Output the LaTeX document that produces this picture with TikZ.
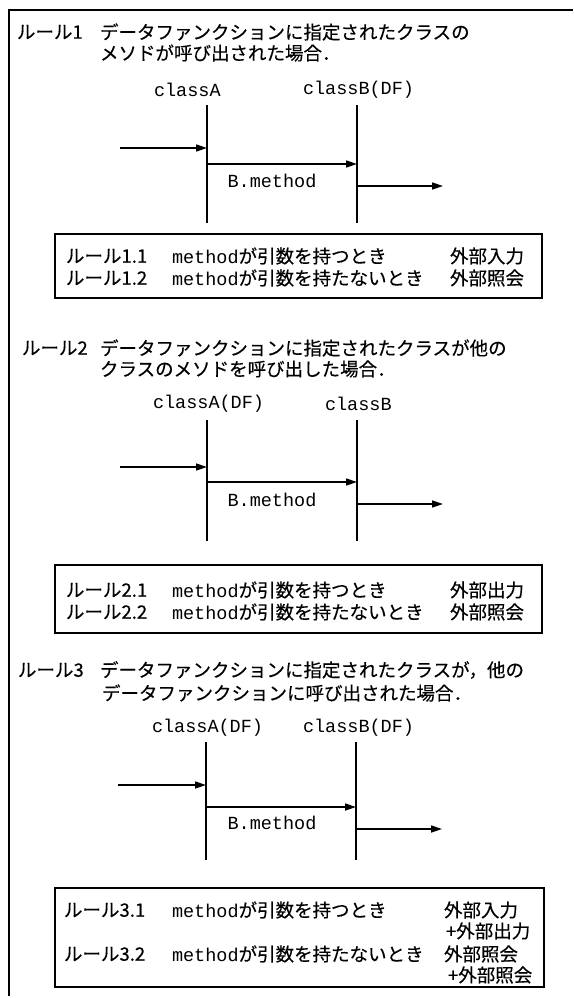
\documentclass[tikz,border=0pt]{standalone}
\usepackage{fontspec}
\setmainfont{Noto Sans CJK JP}[FakeBold=0.35]
\setmonofont{Liberation Mono}
\usetikzlibrary{arrows.meta}
\begin{document}
\begin{tikzpicture}[x=1pt,y=-1pt,
  every node/.style={inner sep=0pt,outer sep=0pt},
  jp/.style={font=\fontsize{18.5}{22}\selectfont,anchor=west},
  cls/.style={font=\fontsize{18.5}{22}\ttfamily,anchor=west},
  life/.style={line width=1.6pt},
  msg/.style={line width=1.6pt,-{Triangle[length=11pt,width=7pt]}},
  rulebox/.style={line width=2pt},
  frame/.style={line width=1.2pt}]
\useasboundingbox (0,0) rectangle (573,998);
% outer frame
\coordinate (fTR) at (573,10);
\coordinate (fTL) at (9,10);
\coordinate (fBL) at (9,996);
\draw[frame] (fTR) -- (fTL) -- (fBL);

% ---------------- Rule 1 ----------------
\node[jp] (r1) at (17,32) {ルール1};
\node[jp] (r1a) at (100,32) {データファンクションに指定されたクラスの};
\node[jp] (r1b) at (100,53) {メソドが呼び出された場合．};
\node[cls] (a1) at (154,90) {classA};
\node[cls] (b1) at (303,90) {classB(DF)};
\coordinate (a1t) at (207,105); \coordinate (a1b) at (207,223);
\coordinate (b1t) at (357,105); \coordinate (b1b) at (357,223);
\draw[life] (a1t) -- (a1b);
\draw[life] (b1t) -- (b1b);
\coordinate (in1s) at (120,148); \coordinate (in1e) at (207,148);
\coordinate (c1s) at (207,164); \coordinate (c1e) at (357,164);
\coordinate (o1s) at (357,186); \coordinate (o1e) at (443,186);
\draw[msg] (in1s) -- (in1e);
\draw[msg] (c1s) -- (c1e);
\draw[msg] (o1s) -- (o1e);
\node[cls,anchor=center] (m1) at (272,181) {B.method};
\coordinate (bx1a) at (55,234); \coordinate (bx1b) at (542,298);
\draw[rulebox] (bx1a) rectangle (bx1b);
\node[jp] (r11) at (66,256) {ルール1.1};
\node[jp] (r11m) at (172,256) {{\ttfamily method}が引数を持つとき};
\node[jp] (r11o) at (450,256) {外部入力};
\node[jp] (r12) at (66,278) {ルール1.2};
\node[jp] (r12m) at (172,278) {{\ttfamily method}が引数を持たないとき};
\node[jp] (r12o) at (450,278) {外部照会};

% ---------------- Rule 2 ----------------
\node[jp] (r2) at (22,348) {ルール2};
\node[jp] (r2a) at (100,348) {データファンクションに指定されたクラスが他の};
\node[jp] (r2b) at (100,369) {クラスのメソドを呼び出した場合．};
\node[cls] (a2) at (153,404) {classA(DF)};
\node[cls] (b2) at (325,404) {classB};
\coordinate (a2t) at (207,420); \coordinate (a2b) at (207,541);
\coordinate (b2t) at (357,420); \coordinate (b2b) at (357,541);
\draw[life] (a2t) -- (a2b);
\draw[life] (b2t) -- (b2b);
\coordinate (in2s) at (120,467); \coordinate (in2e) at (207,467);
\coordinate (c2s) at (207,482); \coordinate (c2e) at (357,482);
\coordinate (o2s) at (357,504); \coordinate (o2e) at (443,504);
\draw[msg] (in2s) -- (in2e);
\draw[msg] (c2s) -- (c2e);
\draw[msg] (o2s) -- (o2e);
\node[cls,anchor=center] (m2) at (272,500) {B.method};
\coordinate (bx2a) at (55,565); \coordinate (bx2b) at (542,633);
\draw[rulebox] (bx2a) rectangle (bx2b);
\node[jp] (r21) at (66,590) {ルール2.1};
\node[jp] (r21m) at (172,590) {{\ttfamily method}が引数を持つとき};
\node[jp] (r21o) at (450,590) {外部出力};
\node[jp] (r22) at (66,612) {ルール2.2};
\node[jp] (r22m) at (172,612) {{\ttfamily method}が引数を持たないとき};
\node[jp] (r22o) at (450,612) {外部照会};

% ---------------- Rule 3 ----------------
\node[jp] (r3) at (18,670) {ルール3};
\node[jp] (r3a) at (100,670) {データファンクションに指定されたクラスが，他の};
\node[jp] (r3b) at (102,693) {データファンクションに呼び出された場合．};
\node[cls] (a3) at (152,728) {classA(DF)};
\node[cls] (b3) at (303,728) {classB(DF)};
\coordinate (a3t) at (206,742); \coordinate (a3b) at (206,860);
\coordinate (b3t) at (356,742); \coordinate (b3b) at (356,860);
\draw[life] (a3t) -- (a3b);
\draw[life] (b3t) -- (b3b);
\coordinate (in3s) at (118,785); \coordinate (in3e) at (206,785);
\coordinate (c3s) at (206,807); \coordinate (c3e) at (356,807);
\coordinate (o3s) at (356,829); \coordinate (o3e) at (442,829);
\draw[msg] (in3s) -- (in3e);
\draw[msg] (c3s) -- (c3e);
\draw[msg] (o3s) -- (o3e);
\node[cls,anchor=center] (m3) at (272,823) {B.method};
\coordinate (bx3a) at (55,888); \coordinate (bx3b) at (544,987);
\draw[rulebox] (bx3a) rectangle (bx3b);
\node[jp] (r31) at (64,910) {ルール3.1};
\node[jp] (r31m) at (172,910) {{\ttfamily method}が引数を持つとき};
\node[jp] (r31o) at (444,910) {外部入力};
\node[jp] (r31p) at (446,931) {+外部出力};
\node[jp] (r32) at (64,954) {ルール3.2};
\node[jp] (r32m) at (172,954) {{\ttfamily method}が引数を持たないとき};
\node[jp] (r32o) at (444,954) {外部照会};
\node[jp] (r32p) at (448,975) {+外部照会};
\end{tikzpicture}
\end{document}
